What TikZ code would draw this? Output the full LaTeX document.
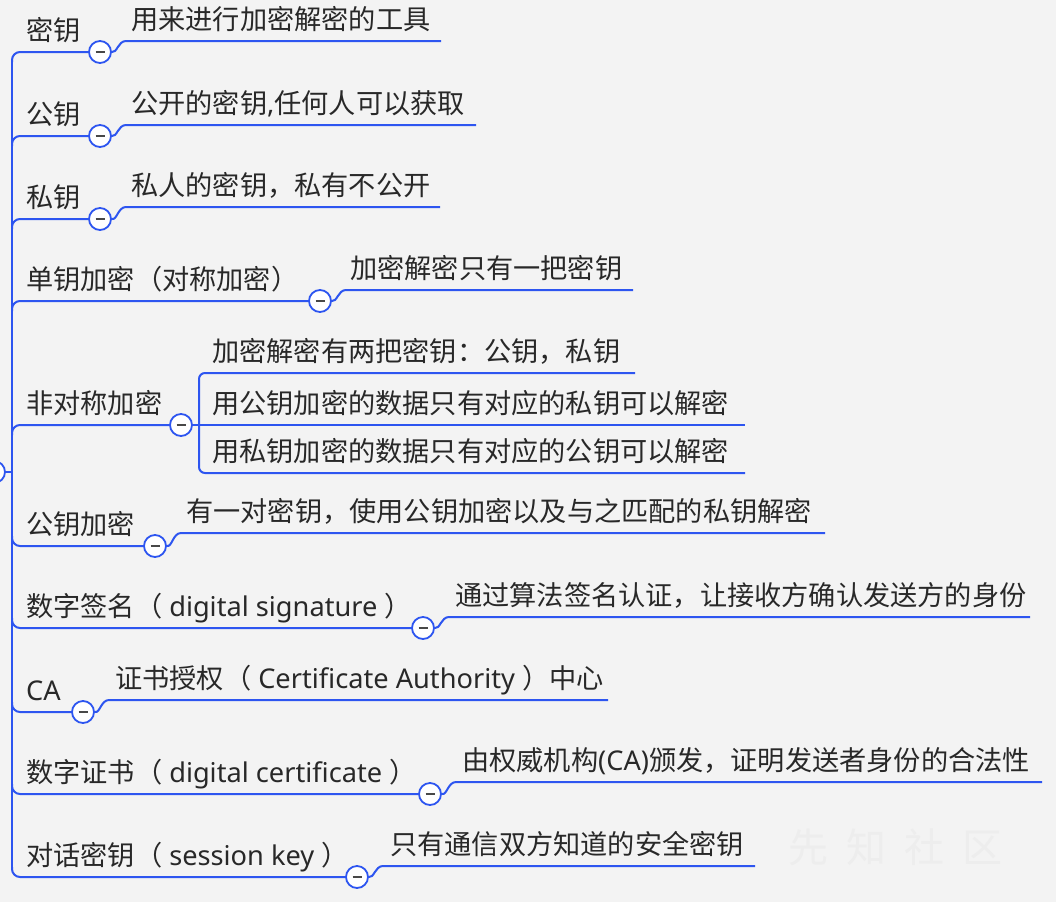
\documentclass[tikz,border=0pt]{standalone}
\usepackage{fontspec}
\newfontfamily\cjk{Noto Sans CJK SC}
\newfontfamily\lat{Noto Sans}
\definecolor{mblue}{RGB}{45,85,240}
\definecolor{bgc}{RGB}{243,243,243}
\definecolor{txt}{RGB}{40,40,40}
\tikzset{
  lbl/.style={anchor=base west, inner sep=0pt, text=txt, font=\cjk\fontsize{27.2}{30}\selectfont},
  br/.style={draw=mblue, line width=2pt},
  trunk/.style={draw=mblue, line width=2.6pt},
  tog/.style={circle, draw=mblue, line width=1.8pt, fill=white, minimum size=22pt, inner sep=0pt,
    path picture={\draw[line width=2.2pt, txt!85] ([xshift=-4.5pt]path picture bounding box.center) -- ([xshift=4.5pt]path picture bounding box.center);}},
}
\newcommand{\Lt}[1]{{\lat #1}}
\begin{document}
\begin{tikzpicture}[x=1pt,y=-1pt]
\useasboundingbox (0,0) rectangle (1056,902);
\fill[bgc] (0,0) rectangle (1056,902);
\clip (0,0) rectangle (1056,902);

% watermark
\node[anchor=base west, inner sep=0pt, text=black!7, font=\cjk\fontsize{40}{40}\selectfont] (wm) at (788,862) {先\hspace{18pt}知\hspace{18pt}社\hspace{18pt}区};

% root toggle and trunk
\node[tog] (root) at (-6,472) {};
\draw[br] (root.east) -- (12,472);
\coordinate (ttop) at (12,60);
\coordinate (tbot) at (12,869);
\draw[trunk] (ttop) -- (tbot);

% toggles
\node[tog] (t1) at (100,52) {};
\node[tog] (t2) at (100,136) {};
\node[tog] (t3) at (100,219) {};
\node[tog] (t4) at (320,301) {};
\node[tog] (t5) at (181,425) {};
\node[tog] (t6) at (155,546) {};
\node[tog] (t7) at (423,628) {};
\node[tog] (t8) at (83,712) {};
\node[tog] (t9) at (430,794) {};
\node[tog] (t10) at (357,877) {};

% branches from trunk
\draw[br, rounded corners=8] (12,62) |- (t1.west);
\draw[br, rounded corners=8] (12,146) |- (t2.west);
\draw[br, rounded corners=8] (12,229) |- (t3.west);
\draw[br, rounded corners=8] (12,311) |- (t4.west);
\draw[br, rounded corners=8] (12,435) |- (t5.west);
\draw[br, rounded corners=8] (12,536) |- (t6.west);
\draw[br, rounded corners=8] (12,618) |- (t7.west);
\draw[br, rounded corners=8] (12,702) |- (t8.west);
\draw[br, rounded corners=8] (12,784) |- (t9.west);
\draw[br, rounded corners=8] (12,867) |- (t10.west);

% main labels
\node[lbl] (p1) at (26,40) {密钥};
\node[lbl] (p2) at (26,124) {公钥};
\node[lbl] (p3) at (26,207) {私钥};
\node[lbl] (p4) at (26,289) {单钥加密（对称加密）};
\node[lbl] (p5) at (26,413) {非对称加密};
\node[lbl] (p6) at (26,534) {公钥加密};
\node[lbl] (p7) at (26,616) {数字签名（\Lt{ digital signature }）};
\node[lbl] (p8) at (26,700) {\Lt{CA}};
\node[lbl] (p9) at (26,782) {数字证书（\Lt{ digital certificate }）};
\node[lbl] (p10) at (26,865) {对话密钥（\Lt{ session key }）};

% child line coordinates
\coordinate (s1) at (126,41);   \coordinate (e1) at (441,41);
\coordinate (s2) at (126,125);  \coordinate (e2) at (476,125);
\coordinate (s3) at (126,207);  \coordinate (e3) at (440,207);
\coordinate (s4) at (346,290);  \coordinate (e4) at (633,290);
\coordinate (s6) at (181,533);  \coordinate (e6) at (825,533);
\coordinate (s7) at (449,617);  \coordinate (e7) at (1030,617);
\coordinate (s8) at (109,700);  \coordinate (e8) at (608,700);
\coordinate (s9) at (456,782);  \coordinate (e9) at (1042,782);
\coordinate (s10) at (383,866); \coordinate (e10) at (755,866);

\foreach \i in {1,2,3,4,6,7,8,9,10}{
  \draw[br] (t\i.east) .. controls +(5,1.5) and +(-8,0) .. (s\i) -- (e\i);
}

% bracket of the asymmetric branch
\coordinate (e5a) at (635,373);
\coordinate (e5b) at (745,425);
\coordinate (e5c) at (745,473);
\coordinate (b5t) at (199,373);
\coordinate (b5b) at (199,473);
\draw[br, rounded corners=6] (e5a) -- (b5t) -- (b5b) -- (e5c);
\draw[br] (t5.east) -- (e5b);

% child labels
\node[lbl] (c1) at (131,29) {用来进行加密解密的工具};
\node[lbl] (c2) at (131,113) {公开的密钥\Lt{,}任何人可以获取};
\node[lbl] (c3) at (131,195) {私人的密钥，私有不公开};
\node[lbl] (c4) at (350,278) {加密解密只有一把密钥};
\node[lbl] (c5a) at (212,361) {加密解密有两把密钥：公钥，私钥};
\node[lbl] (c5b) at (212,413) {用公钥加密的数据只有对应的私钥可以解密};
\node[lbl] (c5c) at (212,461) {用私钥加密的数据只有对应的公钥可以解密};
\node[lbl] (c6) at (186,521) {有一对密钥，使用公钥加密以及与之匹配的私钥解密};
\node[lbl] (c7) at (455,605) {通过算法签名认证，让接收方确认发送方的身份};
\node[lbl] (c8) at (115,688) {证书授权（\Lt{ Certificate Authority }）中心};
\node[lbl] (c9) at (462,770) {由权威机构\Lt{(CA)}颁发，证明发送者身份的合法性};
\node[lbl] (c10) at (390,854) {只有通信双方知道的安全密钥};
\end{tikzpicture}
\end{document}
